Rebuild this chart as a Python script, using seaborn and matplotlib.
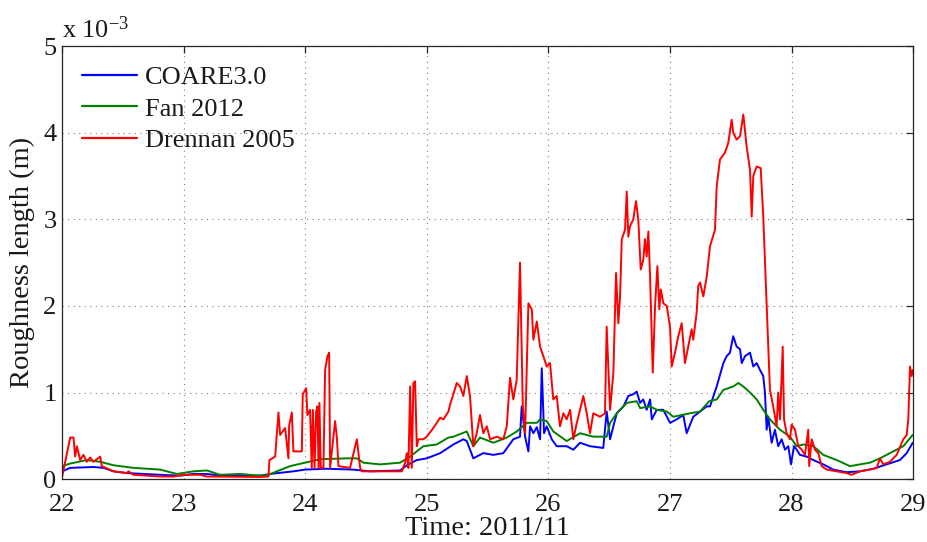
import numpy as np
import pandas as pd
import matplotlib
matplotlib.use("Agg")
import matplotlib.pyplot as plt
import seaborn as sns

# Time in days of November 2011, roughness length in units of 1e-3 m
coare_t = [22.000, 22.066, 22.257, 22.340, 22.422, 22.532, 22.806, 22.970, 23.080, 23.190,
           23.299, 23.628, 23.711, 23.902, 23.998, 24.177, 24.396, 24.533, 24.780, 24.835,
           24.917, 24.999, 25.109, 25.218, 25.300, 25.328, 25.382, 25.464, 25.547, 25.629,
           25.711, 25.766, 25.780, 25.808, 25.835, 25.849, 25.876, 25.904, 25.931, 25.945,
           25.964, 25.986, 26.027, 26.068, 26.150, 26.205, 26.260, 26.342, 26.451, 26.479,
           26.507, 26.534, 26.562, 26.617, 26.657, 26.698, 26.726, 26.754, 26.780, 26.808,
           26.836, 26.850, 26.891, 26.945, 27.000, 27.055, 27.109, 27.137, 27.191, 27.247,
           27.302, 27.329, 27.384, 27.439, 27.466, 27.493, 27.520, 27.548, 27.576, 27.590,
           27.617, 27.658, 27.685, 27.713, 27.740, 27.767, 27.781, 27.795, 27.808, 27.836,
           27.863, 27.890, 27.918, 27.946, 27.973, 27.995, 28.020, 28.042, 28.069, 28.124,
           28.179, 28.261, 28.343, 28.453, 28.562, 28.672, 28.781, 28.891, 28.947, 28.996]
coare_z = [0.09, 0.13, 0.14, 0.13, 0.09, 0.07, 0.05, 0.04, 0.06, 0.06,
           0.04, 0.04, 0.06, 0.09, 0.11, 0.12, 0.11, 0.09, 0.10, 0.16,
           0.22, 0.24, 0.30, 0.40, 0.46, 0.44, 0.24, 0.30, 0.28, 0.30,
           0.46, 0.49, 0.84, 0.49, 0.32, 0.61, 0.53, 0.60, 0.46, 1.28,
           0.53, 0.61, 0.46, 0.38, 0.38, 0.34, 0.42, 0.38, 0.36, 0.78,
           0.46, 0.61, 0.76, 0.84, 0.96, 0.98, 1.01, 0.88, 0.92, 0.80,
           0.92, 0.69, 0.80, 0.80, 0.65, 0.69, 0.74, 0.53, 0.72, 0.78,
           0.84, 0.84, 1.07, 1.34, 1.42, 1.46, 1.65, 1.53, 1.50, 1.34,
           1.42, 1.46, 1.30, 1.34, 1.26, 1.19, 1.00, 0.57, 0.72, 0.42,
           0.57, 0.38, 0.46, 0.34, 0.38, 0.17, 0.38, 0.34, 0.28, 0.26,
           0.22, 0.17, 0.11, 0.08, 0.09, 0.12, 0.17, 0.22, 0.30, 0.42]

fan_t = [22.000, 22.066, 22.203, 22.313, 22.422, 22.586, 22.806, 22.943, 23.080, 23.190,
         23.299, 23.464, 23.628, 23.697, 23.766, 23.875, 23.998, 24.122, 24.341, 24.424,
         24.478, 24.615, 24.780, 24.862, 24.971, 25.081, 25.177, 25.218, 25.328, 25.382,
         25.437, 25.547, 25.657, 25.739, 25.821, 25.904, 25.931, 25.986, 26.040, 26.150,
         26.260, 26.369, 26.479, 26.507, 26.562, 26.644, 26.726, 26.754, 26.836, 26.891,
         26.973, 27.027, 27.164, 27.247, 27.323, 27.384, 27.439, 27.520, 27.562, 27.603,
         27.658, 27.713, 27.767, 27.822, 27.905, 27.987, 28.042, 28.097, 28.179, 28.261,
         28.371, 28.480, 28.562, 28.645, 28.727, 28.836, 28.919, 28.996]
fan_z = [0.15, 0.18, 0.22, 0.20, 0.16, 0.13, 0.11, 0.06, 0.09, 0.10,
         0.05, 0.06, 0.04, 0.05, 0.09, 0.15, 0.19, 0.23, 0.24, 0.24,
         0.19, 0.17, 0.19, 0.26, 0.38, 0.40, 0.48, 0.49, 0.55, 0.38,
         0.48, 0.42, 0.48, 0.55, 0.65, 0.65, 0.69, 0.67, 0.55, 0.44,
         0.53, 0.49, 0.49, 0.65, 0.76, 0.88, 0.90, 0.82, 0.84, 0.80,
         0.78, 0.72, 0.76, 0.78, 0.90, 0.92, 1.03, 1.07, 1.11, 1.07,
         1.00, 0.92, 0.80, 0.69, 0.57, 0.49, 0.38, 0.40, 0.38, 0.28,
         0.22, 0.15, 0.17, 0.19, 0.24, 0.32, 0.38, 0.51]

drennan_t = [22.000, 22.066, 22.093, 22.107, 22.121, 22.148, 22.175, 22.203, 22.230, 22.257,
             22.313, 22.326, 22.422, 22.532, 22.545, 22.586, 22.806, 22.915, 22.998, 23.135,
             23.190, 23.628, 23.697, 23.705, 23.752, 23.779, 23.793, 23.834, 23.861, 23.867,
             23.889, 23.902, 23.971, 23.979, 24.007, 24.017, 24.039, 24.053, 24.062, 24.076,
             24.089, 24.099, 24.109, 24.116, 24.127, 24.149, 24.163, 24.182, 24.196, 24.204,
             24.245, 24.259, 24.273, 24.368, 24.424, 24.437, 24.451, 24.465, 24.615, 24.794,
             24.821, 24.835, 24.848, 24.862, 24.876, 24.889, 24.903, 24.917, 24.930, 24.971,
             24.999, 25.053, 25.109, 25.136, 25.177, 25.191, 25.246, 25.273, 25.300, 25.328,
             25.355, 25.382, 25.410, 25.437, 25.464, 25.493, 25.520, 25.575, 25.629, 25.657,
             25.684, 25.711, 25.739, 25.766, 25.789, 25.808, 25.835, 25.863, 25.876, 25.904,
             25.931, 25.958, 25.986, 26.013, 26.040, 26.068, 26.095, 26.123, 26.150, 26.178,
             26.205, 26.233, 26.260, 26.287, 26.315, 26.342, 26.369, 26.424, 26.465, 26.479,
             26.507, 26.534, 26.556, 26.575, 26.589, 26.603, 26.630, 26.644, 26.657, 26.671,
             26.698, 26.720, 26.739, 26.759, 26.780, 26.794, 26.808, 26.822, 26.836, 26.858,
             26.877, 26.896, 26.912, 26.924, 26.945, 26.973, 27.000, 27.014, 27.041, 27.068,
             27.096, 27.123, 27.150, 27.178, 27.191, 27.219, 27.232, 27.247, 27.274, 27.302,
             27.329, 27.370, 27.384, 27.411, 27.452, 27.479, 27.507, 27.520, 27.548, 27.576,
             27.603, 27.630, 27.658, 27.672, 27.685, 27.713, 27.746, 27.767, 27.795, 27.822,
             27.849, 27.877, 27.890, 27.905, 27.927, 27.938, 27.959, 27.987, 28.000, 28.028,
             28.055, 28.083, 28.110, 28.137, 28.145, 28.165, 28.192, 28.220, 28.247, 28.289,
             28.371, 28.453, 28.494, 28.562, 28.645, 28.700, 28.727, 28.754, 28.809, 28.864,
             28.919, 28.947, 28.960, 28.974, 28.988, 28.996]
drennan_z = [0.03, 0.48, 0.48, 0.26, 0.38, 0.22, 0.28, 0.20, 0.25, 0.20,
             0.26, 0.15, 0.09, 0.07, 0.09, 0.05, 0.03, 0.03, 0.05, 0.05,
             0.03, 0.025, 0.03, 0.22, 0.26, 0.77, 0.51, 0.59, 0.24, 0.62,
             0.77, 0.32, 0.32, 0.98, 1.05, 0.74, 0.80, 0.13, 0.80, 0.13,
             0.78, 0.84, 0.13, 0.88, 0.13, 0.13, 1.26, 1.42, 1.46, 0.13,
             0.67, 0.49, 0.15, 0.13, 0.46, 0.30, 0.13, 0.09, 0.09, 0.09,
             0.19, 0.30, 0.13, 1.07, 0.13, 1.11, 1.13, 0.38, 0.46, 0.46,
             0.49, 0.59, 0.71, 0.69, 0.78, 0.86, 1.11, 1.07, 0.96, 1.19,
             0.96, 0.38, 0.53, 0.74, 0.53, 0.61, 0.46, 0.49, 0.46, 0.61,
             1.17, 0.92, 1.15, 2.50, 0.84, 0.53, 2.03, 1.96, 1.61, 1.82,
             1.53, 1.42, 1.30, 1.34, 0.92, 0.96, 0.61, 0.76, 0.69, 0.80,
             0.46, 0.65, 0.80, 0.96, 0.76, 0.53, 0.76, 0.72, 0.76, 1.76,
             0.80, 1.23, 2.38, 1.80, 2.11, 2.77, 2.88, 3.32, 2.80, 2.92,
             3.00, 3.21, 3.00, 2.42, 2.53, 2.77, 2.57, 2.86, 2.34, 1.23,
             2.00, 2.46, 1.96, 2.19, 2.03, 2.00, 1.76, 1.30, 1.46, 1.65,
             1.80, 1.34, 1.53, 1.73, 1.61, 1.92, 2.23, 2.27, 2.11, 2.34,
             2.69, 2.88, 3.38, 3.69, 3.77, 3.88, 4.15, 4.00, 3.92, 3.96,
             4.21, 3.84, 3.57, 3.03, 3.50, 3.61, 3.59, 3.03, 2.00, 1.03,
             0.84, 0.61, 1.00, 0.69, 1.53, 0.69, 0.53, 0.46, 0.63, 0.57,
             0.38, 0.34, 0.28, 0.57, 0.15, 0.46, 0.34, 0.30, 0.15, 0.11,
             0.09, 0.07, 0.05, 0.09, 0.11, 0.13, 0.24, 0.17, 0.20, 0.28,
             0.46, 0.51, 0.69, 1.30, 1.19, 1.26]

series_names = ["COARE3.0", "Fan 2012", "Drennan 2005"]
series_colors = ["#0000ff", "#008000", "#ff0000"]

frames = []
for name, t, z in zip(series_names,
                      [coare_t, fan_t, drennan_t],
                      [coare_z, fan_z, drennan_z]):
    frames.append(pd.DataFrame({"day": t, "z0": np.array(z) * 1e-3, "model": name}))
df = pd.concat(frames, ignore_index=True)

sns.set_style("white")
plt.rcParams["font.family"] = ["Liberation Serif", "DejaVu Serif"]
plt.rcParams["mathtext.default"] = "regular"

fig = plt.figure(figsize=(9.28, 5.42), dpi=100)
ax = fig.add_axes([0.067, 0.116, 0.917, 0.799])

sns.lineplot(data=df, x="day", y="z0", hue="model", hue_order=series_names,
             palette=series_colors, estimator=None, sort=False,
             linewidth=1.4, ax=ax)

ax.set_xlim(22, 29)
ax.set_ylim(0, 5e-3)
ax.set_xticks(range(22, 30))
ax.set_xticklabels([str(d) for d in range(22, 30)])
yt = np.arange(0, 6) * 1e-3
ax.set_yticks(yt)
ax.set_yticklabels([str(i) for i in range(6)])

ax.grid(True, linestyle=(0, (1, 4)), color="#808080", linewidth=0.8)
for s in ax.spines.values():
    s.set_visible(True)
    s.set_color("#262626")
    s.set_linewidth(0.9)
ax.tick_params(direction="in", length=5, width=0.9, top=True, right=True,
               labelsize=19, colors="#262626")
ax.tick_params(axis="x", pad=10.5)
ax.tick_params(axis="y", pad=4)
for lab in ax.get_xticklabels() + ax.get_yticklabels():
    lab.set_color("#1a1a1a")

ax.set_xlabel("Time: 2011/11", fontsize=20.5, color="#1a1a1a", labelpad=0)
ax.set_ylabel("Roughness length (m)", fontsize=20.5, color="#1a1a1a", labelpad=6)
ax.text(0.0, 1.008, r"x 10$^{-3}$", transform=ax.transAxes, fontsize=19,
        color="#1a1a1a", ha="left", va="bottom")

leg = ax.legend(loc="upper left", frameon=False, fontsize=19, handlelength=2.1,
                handletextpad=0.3, labelspacing=0.3, borderaxespad=0.35,
                borderpad=0.4)
for h in leg.get_lines():
    h.set_linewidth(1.6)
for txt in leg.get_texts():
    txt.set_color("#1a1a1a")

fig.savefig("out.png", dpi=100, facecolor="white")
